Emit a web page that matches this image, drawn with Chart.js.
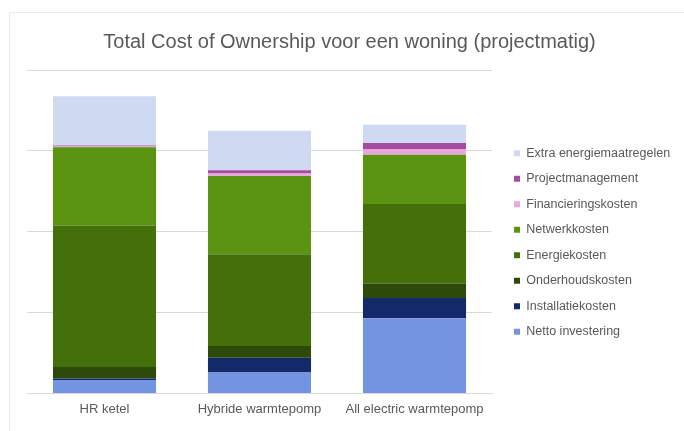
<!DOCTYPE html>
<html lang="nl">
<head>
<meta charset="UTF-8">
<title>Total Cost of Ownership</title>
<script src="https://cdn.jsdelivr.net/npm/chart.js"></script>
<style>
  body { margin: 0; background: #ffffff; overflow: hidden; }
  #wrap { position: relative; width: 684px; height: 431px; }
  #frame { position: absolute; left: 9px; top: 12px; width: 700px; height: 450px; border: 1px solid #ebebeb; pointer-events: none; }
  canvas { position: absolute; left: 0; top: 0; }
</style>
</head>
<body>
<div id="wrap">
  <div id="frame"></div>
  <canvas id="tco" width="684" height="431"></canvas>
</div>
<script>
// DATA (relative units)
const categories = ['HR ketel', 'Hybride warmtepomp', 'All electric warmtepomp'];
const nettoInvestering = [0.165, 0.26, 0.93];
const installatiekosten = [0.02, 0.18, 0.25];
const onderhoudskosten = [0.14, 0.145, 0.177];
const energiekosten = [1.75, 1.135, 0.985];
const netwerkkosten = [0.97, 0.97, 0.61];
const financieringskosten = [0.01, 0.03, 0.07];
const projectmanagement = [0.01, 0.04, 0.075];
const extraEnergiemaatregelen = [0.61, 0.49, 0.225];
const yTicks = [0, 1, 2, 3, 4];

const textColor = '#595959';
const gridColor = '#d9d9d9';
const FONT = 'Liberation Sans';

const datasets = [
    { label: 'Netto investering', data: nettoInvestering, backgroundColor: '#7395e1' },
    { label: 'Installatiekosten', data: installatiekosten, backgroundColor: '#13296a' },
    { label: 'Onderhoudskosten', data: onderhoudskosten, backgroundColor: '#2d4a0a' },
    { label: 'Energiekosten', data: energiekosten, backgroundColor: '#44700c' },
    { label: 'Netwerkkosten', data: netwerkkosten, backgroundColor: '#5b9410' },
    { label: 'Financieringskosten', data: financieringskosten, backgroundColor: '#e8a6da' },
    { label: 'Projectmanagement', data: projectmanagement, backgroundColor: '#a34c9f' },
    { label: 'Extra energiemaatregelen', data: extraEnergiemaatregelen, backgroundColor: '#cfdaf2' }
].map(d => Object.assign(d, { barPercentage: 0.665, categoryPercentage: 1, borderWidth: 0 }));

// legend sits a bit away from the plot, like the spreadsheet original
const legendNudge = {
    id: 'legendNudge',
    beforeLayout(chart) {
        const lg = chart.legend;
        if (lg && !lg._wrapped) {
            const fit = lg.fit;
            lg.fit = function () { fit.call(this); this.width = 180; };
            lg._wrapped = true;
        }
    },
    afterLayout(chart) {
        const lg = chart.legend;
        lg.left += 9; lg.right += 9;
        lg.top += 30; lg.bottom += 30;
    }
};

new Chart(document.getElementById('tco'), {
    type: 'bar',
    data: { labels: categories, datasets: datasets },
    plugins: [legendNudge],
    options: {
        responsive: false,
        animation: false,
        layout: { padding: { left: 27, right: 12, bottom: 6 } },
        scales: {
            x: {
                stacked: true,
                grid: { display: false, drawTicks: false },
                border: { color: gridColor },
                ticks: { color: textColor, font: { family: FONT, size: 13 }, padding: 8 }
            },
            y: {
                stacked: true,
                min: yTicks[0],
                max: yTicks[yTicks.length - 1],
                afterBuildTicks: axis => { axis.ticks = yTicks.map(v => ({ value: v })); },
                grid: { color: gridColor, drawTicks: false },
                border: { display: false },
                ticks: { display: false }
            }
        },
        plugins: {
            title: {
                display: true,
                text: 'Total Cost of Ownership voor een woning (projectmatig)',
                color: textColor,
                font: { family: FONT, size: 20, weight: 'normal' },
                padding: { top: 30, bottom: 16 }
            },
            legend: {
                position: 'right',
                reverse: true,
                labels: {
                    color: textColor,
                    boxWidth: 6,
                    boxHeight: 6,
                    padding: 13,
                    font: { family: FONT, size: 12.5 }
                }
            },
            tooltip: { enabled: false }
        }
    }
});
</script>
</body>
</html>
